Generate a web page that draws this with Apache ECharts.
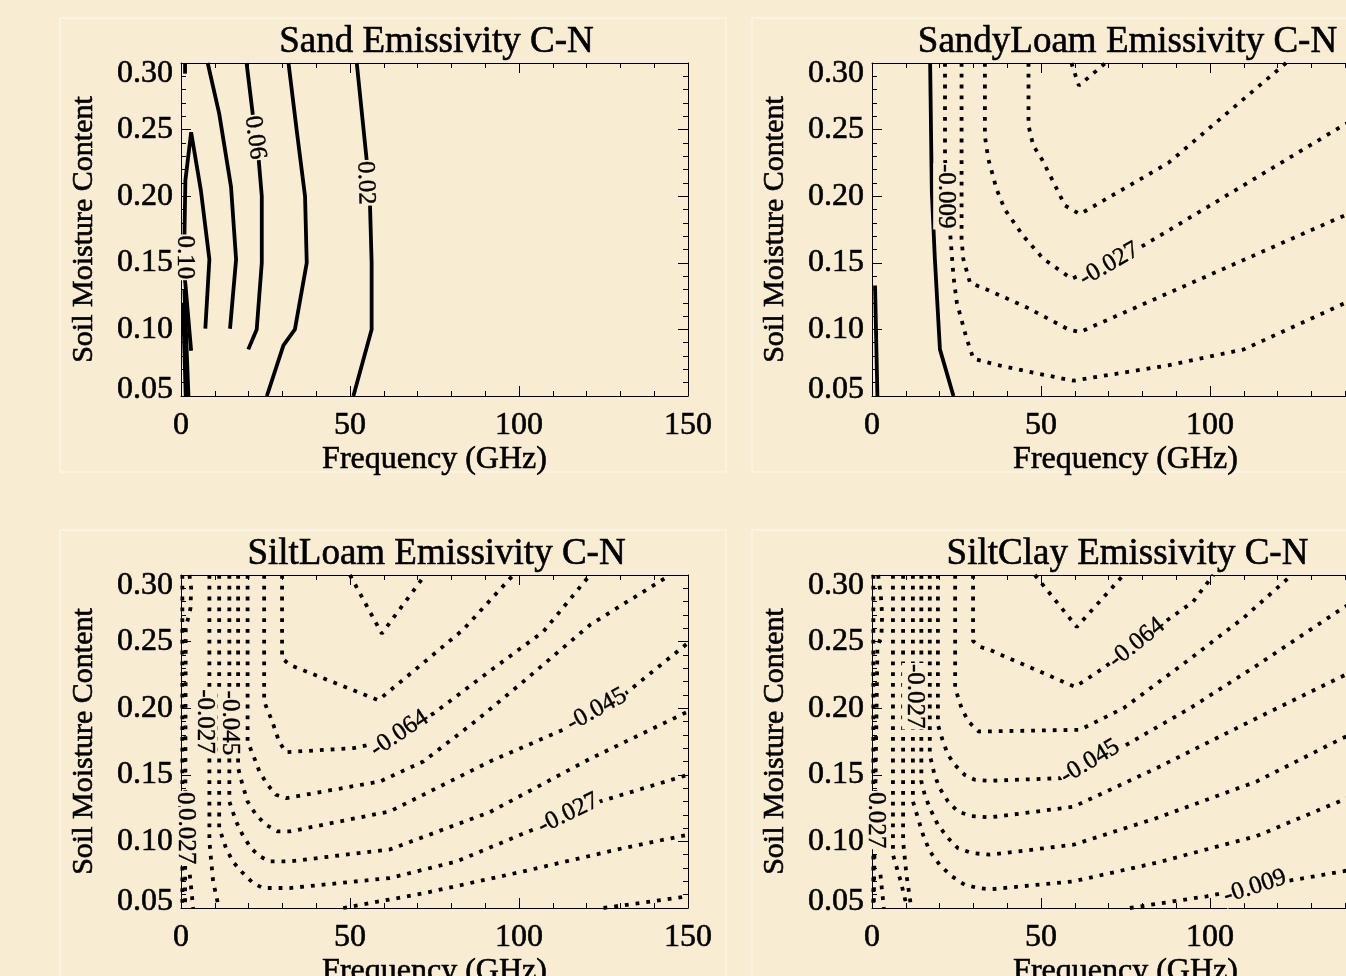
<!DOCTYPE html>
<html>
<head>
<meta charset="utf-8">
<title>Soil Emissivity C-N</title>
<script src="https://cdn.jsdelivr.net/npm/echarts@6/dist/echarts.min.js"></script>
<style>
  html, body { margin: 0; padding: 0; overflow: hidden; background: #f8edd3; }
  #chart { width: 1440px; height: 1010px; }
</style>
</head>
<body>
<div id="chart"></div>
<script>
// contour paths as [frequency GHz, soil moisture]
const sand002 = [[52, 0.30], [54.9, 0.228], [55.9, 0.195], [56.4, 0.15], [56.4, 0.10], [51, 0.05]]
const sand004 = [[31.8, 0.30], [34.2, 0.25], [36.7, 0.20], [37.2, 0.15], [33.7, 0.10], [30.3, 0.088], [25.4, 0.05]]
const sand006 = [[19.4, 0.30], [21.4, 0.258], [22.9, 0.23], [23.9, 0.20], [23.9, 0.15], [22.4, 0.10], [19.9, 0.085]]
const sand008 = [[7.9, 0.30], [11.3, 0.262], [14.8, 0.207], [16.3, 0.1525], [14.5, 0.1005]]
const sand010 = [[7.2, 0.1005], [8.4, 0.1525], [5.9, 0.204], [3.0, 0.248], [1.3, 0.212], [1.0, 0.168], [1.0, 0.141], [1.3, 0.134], [3.0, 0.084]]
const sand012a = [[1.2, 0.30], [1.2, 0.292]]
const sand012b = [[1.0, 0.13], [2.2, 0.05]]
const sand012c = [[0.6, 0.12], [1.4, 0.05]]

const sandyPos1 = [[17.2, 0.30], [17.7, 0.203], [18.6, 0.153], [20.1, 0.085], [24.1, 0.05]]
const sandyPos2 = [[0.9, 0.133], [1.6, 0.05]]
const sandyM009 = [[21.6, 0.30], [21.6, 0.228], [22.4, 0.20], [23.1, 0.173], [24.1, 0.14], [25.1, 0.12], [28, 0.093], [30, 0.078], [35.9, 0.074], [49.7, 0.0665], [59.6, 0.0615], [87.6, 0.073], [110, 0.085], [139.3, 0.119], [150, 0.131]]
const sandyM018 = [[26.5, 0.30], [26.5, 0.168], [27, 0.153], [29, 0.135], [33.9, 0.13], [45.8, 0.1165], [58.1, 0.100], [61.5, 0.098], [100, 0.141], [139.3, 0.185], [150, 0.197]]
const sandyM027 = [[33.4, 0.30], [33.4, 0.245], [34.4, 0.228], [36.9, 0.205], [39.3, 0.19], [44.8, 0.17], [50.7, 0.153], [59.1, 0.138], [79, 0.161], [100, 0.193], [139.3, 0.253], [150, 0.268]]
const sandyM036 = [[46.3, 0.30], [46.3, 0.253], [47.7, 0.238], [50.2, 0.228], [53.2, 0.213], [57.1, 0.193], [61.5, 0.1865], [87.7, 0.225], [122.5, 0.30]]
const sandyM045 = [[59, 0.30], [61.2, 0.283], [69.1, 0.30]]

const siltLoamA = [[50, 0.30], [59.4, 0.256], [72.2, 0.30]]
const siltLoamB = [[29.9, 0.30], [29.9, 0.2375], [32.2, 0.2325], [58.4, 0.206], [71.7, 0.234], [83.5, 0.259], [98.3, 0.30]]
const siltLoamC = [[24.6, 0.30], [24.6, 0.205], [27, 0.19], [29, 0.175], [31, 0.167], [51, 0.170], [60, 0.175], [74.7, 0.196], [88.5, 0.2225], [107.2, 0.2575], [121, 0.30]]
const siltLoamD = [[19.7, 0.30], [19.7, 0.175], [21.7, 0.1625], [23.2, 0.1525], [25.6, 0.1425], [28.1, 0.135], [31.1, 0.1325], [58.9, 0.145], [71.7, 0.16], [87.5, 0.191], [101.3, 0.22], [121, 0.2625], [144.7, 0.30]]
const siltLoamE = [[16.9, 0.30], [16.9, 0.155], [18.2, 0.1425], [19.7, 0.13], [22.2, 0.12], [25.1, 0.1125], [28.6, 0.1075], [32.2, 0.1075], [61.8, 0.1225], [91.4, 0.16], [115, 0.186], [131, 0.21], [150, 0.249]]
const siltLoamF = [[14.3, 0.30], [14.3, 0.13], [16.3, 0.115], [18.2, 0.105], [20.7, 0.095], [23.2, 0.089], [26.1, 0.085], [32.2, 0.085], [61.8, 0.094], [91.4, 0.122], [121, 0.162], [150, 0.1975]]
const siltLoamG = [[11.3, 0.30], [11.3, 0.11], [13.3, 0.095], [15.3, 0.085], [17.8, 0.0775], [21.2, 0.069], [24.2, 0.065], [32.2, 0.065], [61.8, 0.0725], [81.6, 0.085], [105.2, 0.11], [124, 0.13], [150, 0.15]]
const siltLoamH = [[8.4, 0.30], [8.4, 0.10], [9.5, 0.07], [11.2, 0.05]]
const siltLoamH2 = [[48, 0.05], [71.7, 0.061], [101.3, 0.0775], [130.9, 0.095], [150, 0.105]]
const siltLoamI = [[2.5, 0.30], [3.0, 0.29], [2.8, 0.275], [1.4, 0.26], [1.2, 0.05]]
const siltLoamI2 = [[125, 0.05], [150, 0.0588]]
const siltLoamJ = [[0.4, 0.30], [0.4, 0.05]]
const siltLoamK = [[2.6, 0.075], [3.6, 0.05]]

const siltClayA = [[48.2, 0.30], [60.6, 0.261], [74.4, 0.30]]
const siltClayB = [[29.9, 0.30], [29.9, 0.2505], [32, 0.246], [34.9, 0.2437], [60.1, 0.216], [68.4, 0.23], [85.7, 0.263], [95, 0.28], [101, 0.30]]
const siltClayC = [[24.6, 0.30], [24.6, 0.215], [26.5, 0.20], [28.5, 0.19], [31.6, 0.1825], [61.5, 0.1838], [74.4, 0.20], [94.1, 0.237], [110, 0.268], [124.2, 0.30]]
const siltClayD = [[19.5, 0.30], [19.5, 0.1875], [21, 0.175], [22.5, 0.165], [24.5, 0.1575], [27.4, 0.15], [30.4, 0.1463], [34.9, 0.1455], [56, 0.1475], [73.9, 0.1705], [94.1, 0.20], [113.8, 0.232], [139.2, 0.275], [150, 0.292]]
const siltClayE = [[17.1, 0.30], [17.1, 0.165], [18.5, 0.15], [20, 0.14], [22.5, 0.13], [25.4, 0.1225], [29.4, 0.119], [34.9, 0.118], [59.6, 0.126], [84.2, 0.155], [113.8, 0.1925], [139.2, 0.224], [150, 0.238]]
const siltClayF = [[14.6, 0.30], [14.6, 0.145], [15.6, 0.135], [17.1, 0.125], [19.5, 0.1125], [22.5, 0.1025], [25.4, 0.095], [29.4, 0.0913], [34.9, 0.09], [59.6, 0.0975], [84.2, 0.1175], [113.8, 0.145], [139.2, 0.1775], [150, 0.19]]
const siltClayG = [[12.1, 0.30], [12.1, 0.13], [13.6, 0.1175], [15.1, 0.105], [17.1, 0.0925], [20, 0.0825], [23.5, 0.074], [27.4, 0.0675], [31.4, 0.065], [34.9, 0.064], [59.6, 0.07], [84.2, 0.084], [113.8, 0.104], [139.2, 0.131], [150, 0.142]]
const siltClayH = [[9.2, 0.30], [9.2, 0.10], [10.2, 0.075], [11.6, 0.05]]
const siltClayH2 = [[76.3, 0.05], [99, 0.0588], [113.3, 0.066], [139.2, 0.0775], [150, 0.082]]
const siltClayI = [[6.2, 0.30], [6.2, 0.09], [8.5, 0.07], [10.4, 0.05]]
const siltClayJ = [[1.8, 0.30], [2.6, 0.285], [3.0, 0.27], [2.8, 0.255], [1.6, 0.245], [0.5, 0.05]]
const siltClayK = [[0.4, 0.30], [0.4, 0.05]]
const siltClayL = [[2.5, 0.075], [3.5, 0.05]]

// contour labels: [frequency, moisture, text, angle]
const sandLabels = [[1.0, 0.154, '0.10', -90], [21.9, 0.244, '0.06', -83], [54.6, 0.21, '0.02', -88]]
const sandyLabels = [[21.8, 0.20, '-0.009', -90], [70.2, 0.149, '-0.027', 30]]
const siltLoamLabels = [[64.6, 0.181, '-0.064', 34], [123, 0.199, '-0.045', 29], [114.6, 0.121, '-0.027', 26],
  [6.9, 0.19, '-0.027', -90], [14.5, 0.189, '-0.045', -90], [1.0, 0.116, '0.009', -90], [1.3, 0.104, '0.027', -90]]
const siltClayLabels = [[78.3, 0.249, '-0.064', 39], [64.5, 0.16, '-0.045', 31], [113.3, 0.066, '-0.009', 18],
  [12.6, 0.209, '-0.027', -90], [1.0, 0.116, '0.027', -90]]

const titles = ['Sand Emissivity C-N', 'SandyLoam Emissivity C-N', 'SiltLoam Emissivity C-N', 'SiltClay Emissivity C-N']
const freqRange = [0, 150]
const moistRange = [0.05, 0.30]

const FONT = '"Liberation Serif", "DejaVu Serif", serif'
const BG = '#f8edd3'
const INK = '#000'
// a thin outline of the same colour makes the serif text a little heavier
const heavy = { textBorderColor: INK, textBorderWidth: 0.6 }

const panels = [
  { left: 181, top: 63, solid: [sand002, sand004, sand006, sand008, sand010, sand012a, sand012b, sand012c], dotted: [], labels: sandLabels },
  { left: 872, top: 63, solid: [sandyPos1, sandyPos2], dotted: [sandyM009, sandyM018, sandyM027, sandyM036, sandyM045], labels: sandyLabels },
  { left: 181, top: 575, solid: [], dotted: [siltLoamA, siltLoamB, siltLoamC, siltLoamD, siltLoamE, siltLoamF, siltLoamG, siltLoamH, siltLoamH2, siltLoamI, siltLoamI2, siltLoamJ, siltLoamK], labels: siltLoamLabels },
  { left: 872, top: 575, solid: [], dotted: [siltClayA, siltClayB, siltClayC, siltClayD, siltClayE, siltClayF, siltClayG, siltClayH, siltClayH2, siltClayI, siltClayJ, siltClayK, siltClayL], labels: siltClayLabels }
]

const PW = 507
const PH = 333

const chart = echarts.init(document.getElementById('chart'), null, { renderer: 'canvas' })

const grid = []
const xAxis = []
const yAxis = []
const series = []
const title = []

const tickStyle = { color: INK, width: 1 }

function yLabel(v) {
  const s = v.toFixed(2)
  if (Math.abs(v - moistRange[1]) < 1e-6) return '{t|' + s + '}'
  if (Math.abs(v - moistRange[0]) < 1e-6) return '{b|' + s + '}'
  return s
}

panels.forEach((p, i) => {
  // keep the plot boxes where they are, even though the bottom names run off the page
  grid.push({ left: p.left, top: p.top, width: PW, height: PH, containLabel: false, outerBoundsMode: 'none' })

  title.push({
    text: titles[i],
    left: p.left + PW / 2 - 3,
    top: p.top - 44,
    textAlign: 'center',
    textStyle: Object.assign({ fontFamily: FONT, fontSize: 37, fontWeight: 'normal', color: INK }, heavy)
  })

  const xBase = {
    gridIndex: i,
    type: 'value',
    min: freqRange[0],
    max: freqRange[1],
    interval: 50,
    axisLine: { show: true, onZero: false, lineStyle: tickStyle },
    axisTick: { show: true, inside: true, length: 10, lineStyle: tickStyle },
    minorTick: { show: true, splitNumber: 5, length: 5, lineStyle: tickStyle },
    splitLine: { show: false },
    minorSplitLine: { show: false }
  }
  xAxis.push(Object.assign({}, xBase, {
    position: 'bottom',
    axisLabel: Object.assign({ color: INK, fontFamily: FONT, fontSize: 32, margin: 14 }, heavy),
    name: 'Frequency (GHz)',
    nameLocation: 'middle',
    nameGap: 44,
    nameTextStyle: Object.assign({ color: INK, fontFamily: FONT, fontSize: 32 }, heavy)
  }))
  xAxis.push(Object.assign({}, xBase, { position: 'top', axisLabel: { show: false } }))

  const yBase = {
    gridIndex: i,
    type: 'value',
    min: moistRange[0],
    max: moistRange[1],
    interval: 0.05,
    axisLine: { show: true, onZero: false, lineStyle: tickStyle },
    axisTick: { show: true, inside: true, length: 10, lineStyle: tickStyle },
    minorTick: { show: true, splitNumber: 5, length: 5, lineStyle: tickStyle },
    splitLine: { show: false },
    minorSplitLine: { show: false }
  }
  yAxis.push(Object.assign({}, yBase, {
    position: 'left',
    axisLabel: Object.assign({
      color: INK, fontFamily: FONT, fontSize: 32, margin: 8,
      formatter: yLabel,
      rich: {
        t: Object.assign({ fontFamily: FONT, fontSize: 32, color: INK, padding: [22, 0, 0, 0] }, heavy),
        b: Object.assign({ fontFamily: FONT, fontSize: 32, color: INK, padding: [0, 0, 13, 0] }, heavy)
      }
    }, heavy),
    name: 'Soil Moisture Content',
    nameLocation: 'middle',
    nameGap: 82,
    nameRotate: 90,
    nameTextStyle: Object.assign({ color: INK, fontFamily: FONT, fontSize: 30 }, heavy)
  }))
  yAxis.push(Object.assign({}, yBase, { position: 'right', axisLabel: { show: false } }))

  p.solid.forEach(line => {
    series.push({
      type: 'line', xAxisIndex: 2 * i, yAxisIndex: 2 * i, data: line,
      symbol: 'none', silent: true, z: 2,
      lineStyle: { color: INK, width: 3.8, type: 'solid' }
    })
  })
  p.dotted.forEach(line => {
    series.push({
      type: 'line', xAxisIndex: 2 * i, yAxisIndex: 2 * i, data: line,
      symbol: 'none', silent: true, z: 2,
      lineStyle: { color: INK, width: 3.8, type: [3.8, 7], cap: 'butt' }
    })
  })
  series.push({
    type: 'scatter', xAxisIndex: 2 * i, yAxisIndex: 2 * i,
    symbol: 'rect', symbolSize: 1, silent: true, z: 10,
    itemStyle: { color: 'rgba(0,0,0,0)', opacity: 1 },
    data: p.labels.map(l => ({
      value: [l[0], l[1]],
      label: { show: true, formatter: l[2], rotate: l[3] }
    })),
    label: {
      position: 'inside', color: INK, opacity: 1, fontFamily: FONT, fontSize: 25,
      backgroundColor: BG, padding: [0, 1],
      textBorderColor: INK, textBorderWidth: 0.4
    }
  })
})

chart.setOption({
  backgroundColor: BG,
  animation: false,
  title: title,
  grid: grid,
  xAxis: xAxis,
  yAxis: yAxis,
  series: series,
  graphic: [
    { type: 'rect', shape: { x: 60, y: 18, width: 666, height: 454 }, style: { fill: 'none', stroke: 'rgba(255,255,255,0.7)', lineWidth: 1 }, silent: true },
    { type: 'rect', shape: { x: 752, y: 18, width: 666, height: 454 }, style: { fill: 'none', stroke: 'rgba(255,255,255,0.7)', lineWidth: 1 }, silent: true },
    { type: 'rect', shape: { x: 60, y: 530, width: 666, height: 454 }, style: { fill: 'none', stroke: 'rgba(255,255,255,0.7)', lineWidth: 1 }, silent: true },
    { type: 'rect', shape: { x: 752, y: 530, width: 666, height: 454 }, style: { fill: 'none', stroke: 'rgba(255,255,255,0.7)', lineWidth: 1 }, silent: true }
  ]
})
</script>
</body>
</html>
